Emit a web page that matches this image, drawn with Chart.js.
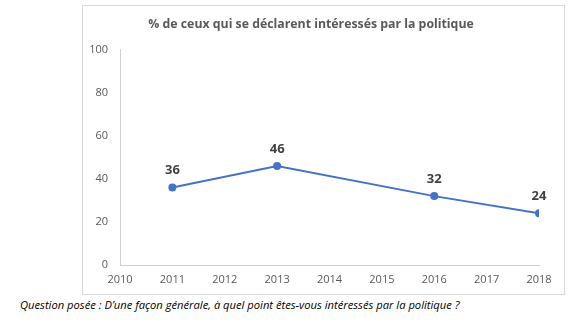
<!DOCTYPE html>
<html>
<head>
<meta charset="utf-8">
<script src="https://cdn.jsdelivr.net/npm/chart.js@4"></script>
<style>
  body { margin: 0; background: #fff; width: 583px; height: 322px; position: relative; overflow: hidden; }
  #frame { position: absolute; left: 82px; top: 5px; width: 481px; height: 288px; border: 1px solid #d9d9d9; }
  #caption { position: absolute; left: 20px; top: 297px; font-family: "Open Sans", sans-serif; font-style: italic; font-size: 11.2px; color: #000; white-space: nowrap; }
</style>
</head>
<body>
<div id="frame"><canvas id="chartLine" width="481" height="288"></canvas></div>
<div id="caption">Question posée : D’une façon générale, à quel point êtes-vous intéressés par la politique ?</div>
<script>
var years = [2011, 2013, 2016, 2018];
var values = [36, 46, 32, 24];
var yearMin = 2010;
var yearMax = 2018;
var titleText = "% de ceux qui se déclarent intéressés par la politique";

var points = years.map(function (y, i) { return { x: y, y: values[i] }; });

// valeurs au-dessus des points
var dataLabels = {
  id: "dataLabels",
  afterDatasetsDraw: function (chart) {
    var ctx = chart.ctx;
    var meta = chart.getDatasetMeta(0);
    ctx.save();
    ctx.font = "bold 13px 'Open Sans'";
    ctx.fillStyle = "#404040";
    ctx.textAlign = "center";
    ctx.textBaseline = "middle";
    meta.data.forEach(function (el, i) {
      ctx.fillText(String(values[i]), el.x, el.y - 17);
    });
    ctx.restore();
  },
};

var ctx = document.getElementById("chartLine").getContext("2d");

const chartLine = new Chart(ctx, {
  type: "line",
  data: {
    datasets: [
      {
        label: "Intéressés",
        data: points,
        borderColor: "#4472C4",
        backgroundColor: "#4472C4",
        borderWidth: 2,
        pointRadius: 4,
        pointBorderWidth: 0,
        tension: 0,
      },
    ],
  },
  plugins: [dataLabels],
  options: {
    responsive: false,
    animation: false,
    layout: { padding: { left: 0, right: 25, top: 0, bottom: 0 } },
    plugins: {
      legend: { display: false },
      tooltip: { enabled: false },
      title: {
        display: true,
        text: titleText,
        color: "#595959",
        font: { family: "Open Sans", size: 12.3, weight: "bold" },
        padding: { top: 11, bottom: 18 },
      },
    },
    scales: {
      x: {
        type: "linear",
        min: yearMin,
        max: yearMax,
        grid: { display: false, drawTicks: false },
        border: { display: true, color: "#d0d0d0", width: 1 },
        ticks: {
          stepSize: 1,
          padding: 8,
          color: "#595959",
          font: { family: "Open Sans", size: 11 },
          callback: function (v) { return String(v); },
        },
        afterFit: function (scale) { scale.height = 29; },
      },
      y: {
        min: 0,
        max: 100,
        grid: { display: false, drawTicks: false },
        border: { display: true, color: "#d0d0d0", width: 1 },
        ticks: {
          stepSize: 20,
          padding: 12,
          color: "#595959",
          font: { family: "Open Sans", size: 11 },
        },
        afterFit: function (scale) { scale.width = 37; },
      },
    },
  },
});
</script>
</body>
</html>
